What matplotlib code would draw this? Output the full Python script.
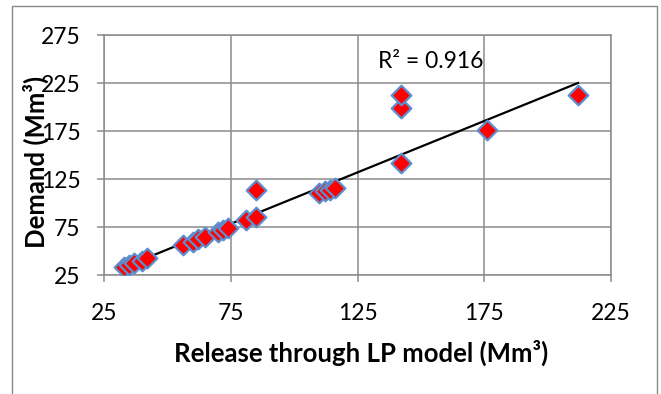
import matplotlib
matplotlib.use("Agg")
import matplotlib.pyplot as plt
import numpy as np
from matplotlib.patches import Rectangle

release = [33, 35, 37, 40, 42, 56, 60, 62, 65, 70, 72, 74, 81, 85, 85,
           110, 112, 114, 116, 142, 142, 142, 176, 212]
demand = [33, 35, 37, 40, 43, 56, 59, 62, 65, 70, 72, 74, 82, 85, 114,
          110, 112, 114, 116, 142, 199, 213, 176, 213]
# trendline coefficients as shown in the chart (slope, intercept)
trend_slope = 1.071
trend_intercept = -2.0
x_ticks = [25, 75, 125, 175, 225]
y_ticks = [25, 75, 125, 175, 225, 275]
r2_label = "R² = 0.916"

plt.rcParams['font.family'] = ['Lato', 'DejaVu Sans']

fig = plt.figure(figsize=(6.61, 3.94), dpi=100)
fig.patches.append(Rectangle((12/661, -0.05), (657-12)/661, 1.05 - 6/394,
                             transform=fig.transFigure, fill=False,
                             edgecolor='#888888', lw=1.0))
ax = fig.add_axes([104/661, 1-275/394, (611-104)/661, (275-35)/394])

ax.set_xlim(25, 225)
ax.set_ylim(25, 275)
ax.set_xticks(x_ticks)
ax.set_yticks(y_ticks)
ax.grid(True, color='#8c8c8c', lw=1.1)
ax.set_axisbelow(True)
for s in ax.spines.values():
    s.set_color('#8c8c8c')
    s.set_linewidth(1.1)
ax.tick_params(direction='out', length=5, width=1.1, color='#8c8c8c',
               labelsize=16.5)
ax.tick_params(axis='y', pad=12)
ax.tick_params(axis='x', pad=15)

# trend line
xs = np.array([min(release), max(release)])
ax.plot(xs, trend_slope * xs + trend_intercept, color='black', lw=1.6, zorder=3)

ax.scatter(release, demand, marker='D', s=100, facecolor='#ff0000',
           edgecolor='#5b8fd0', linewidths=1.6, zorder=4)

ax.text(378, 61, r2_label, fontsize=16.5, va='center', ha='left',
        transform=None)
ax.texts[-1].set_transform(fig.dpi_scale_trans)
ax.texts[-1].set_position((378/100, (394-61)/100))

fig.text(361/661, 1-353/394, "Release through LP model (Mm³)", fontsize=18.5,
         fontweight='bold', ha='center', va='center')
fig.text(36/661, 1-162/394, "Demand (Mm³)", fontsize=18.5,
         fontweight='bold', ha='center', va='center', rotation=90)

fig.savefig("out.png", dpi=100)
